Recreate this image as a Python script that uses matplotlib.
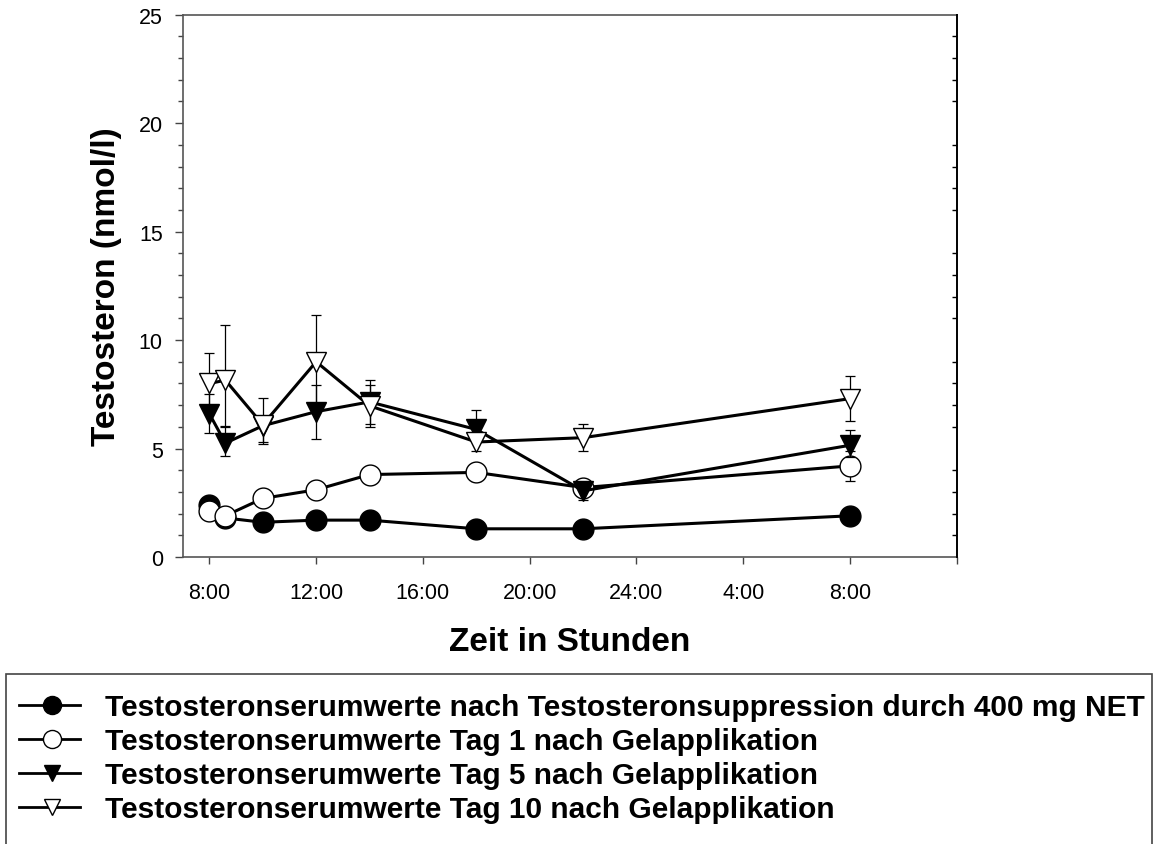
import matplotlib
matplotlib.use("Agg")
import matplotlib.pyplot as plt
from matplotlib.ticker import MultipleLocator, FixedLocator
from matplotlib.lines import Line2D
from matplotlib.patches import Rectangle

plt.rcParams['font.family'] = ['Liberation Sans', 'DejaVu Sans']

# Sampling times (hours; 32 = 8:00 on the following morning)
hours = [8, 8.6, 10, 12, 14, 18, 22, 32]
tick_hours = [8, 12, 16, 20, 24, 28, 32, 36]
tick_labels = ['8:00', '12:00', '16:00', '20:00', '24:00', '4:00', '8:00', '']

# Serum testosterone (nmol/l), means with lower / upper error
supp = [2.4, 1.8, 1.6, 1.7, 1.7, 1.3, 1.3, 1.9]
supp_lo = [0.3, 0.3, 0.3, 0.3, 0.3, 0.3, 0.3, 0.3]
supp_hi = [0.3, 0.3, 0.3, 0.3, 0.3, 0.3, 0.3, 0.3]

day1 = [2.1, 1.9, 2.7, 3.1, 3.8, 3.9, 3.2, 4.2]
day1_lo = [0.3, 0.3, 0.35, 0.35, 0.3, 0.4, 0.3, 0.7]
day1_hi = [0.3, 0.3, 0.35, 0.35, 0.3, 0.4, 0.3, 0.7]

day5 = [6.6, 5.25, 6.05, 6.7, 7.15, 5.88, 3.05, 5.15]
day5_lo = [0.9, 0.6, 0.75, 1.25, 1.0, 0.45, 0.4, 0.55]
day5_hi = [0.9, 0.75, 0.45, 1.25, 1.0, 0.9, 0.4, 0.7]

day10 = [8.0, 8.15, 6.1, 9.0, 6.97, 5.3, 5.5, 7.3]
day10_lo = [1.4, 2.1, 0.9, 2.15, 0.97, 0.4, 0.62, 1.05]
day10_hi = [1.4, 2.55, 1.25, 2.15, 0.97, 0.4, 0.62, 1.05]

labels = [
    'Testosteronserumwerte nach Testosteronsuppression durch 400 mg NET',
    'Testosteronserumwerte Tag 1 nach Gelapplikation',
    'Testosteronserumwerte Tag 5 nach Gelapplikation',
    'Testosteronserumwerte Tag 10 nach Gelapplikation',
]

W, H = 1154, 845
fig = plt.figure(figsize=(W / 100, H / 100), dpi=100)


def fx(x):
    return x / W


def fy(y):
    return 1 - y / H


left, right, top, bottom = 182.7, 956.7, 15.7, 558.0
ax = fig.add_axes([fx(left), fy(bottom), fx(right - left), (bottom - top) / H])

series = [
    (supp, supp_lo, supp_hi, 'o', 'black', 15),
    (day1, day1_lo, day1_hi, 'o', 'white', 15),
    (day5, day5_lo, day5_hi, 'v', 'black', 14),
    (day10, day10_lo, day10_hi, 'v', 'white', 14),
]

for i, (vals, lo, hi, mk, fc, ms) in enumerate(series):
    z = 3 + 3 * i
    ax.errorbar(hours, vals, yerr=[lo, hi], fmt='none', ecolor='black',
                elinewidth=0.9, capsize=3.6, capthick=0.9, zorder=z)
    ax.plot(hours, vals, color='black', lw=2.2, marker=mk, ms=ms,
            mfc=fc, mec='black', mew=1.0, zorder=z + 1)

ax.set_xlim(7, 36)
ax.set_ylim(0, 25)

ax.xaxis.set_major_locator(FixedLocator(tick_hours))
ax.set_xticklabels(tick_labels)
ax.yaxis.set_major_locator(MultipleLocator(5))
ax.yaxis.set_minor_locator(MultipleLocator(1))

ax.tick_params(axis='x', which='major', direction='out', length=5, width=1.0,
               color='#444444', labelsize=15.5, pad=13, top=False)
ax.tick_params(axis='y', which='major', direction='out', length=5.8, width=1.0,
               color='#444444', labelsize=15.5, pad=8.5, right=False)
ax.tick_params(axis='y', which='minor', direction='out', length=3.6, width=1.0,
               color='#444444', right=False)

for side in ('left', 'bottom', 'top'):
    ax.spines[side].set_color('#555555')
    ax.spines[side].set_linewidth(1.2)
ax.spines['right'].set_visible(False)

# right-hand axis: unlabelled inward minor ticks
ax2 = ax.twinx()
ax2.set_ylim(0, 25)
ax2.yaxis.set_major_locator(MultipleLocator(5))
ax2.yaxis.set_minor_locator(MultipleLocator(1))
ax2.tick_params(axis='y', which='major', length=0, labelright=False)
ax2.tick_params(axis='y', which='minor', direction='in', length=3.6, width=1.0,
                color='black')
for side in ('left', 'bottom', 'top'):
    ax2.spines[side].set_visible(False)
ax2.spines['right'].set_color('black')
ax2.spines['right'].set_linewidth(1.4)

ax.set_xlabel('Zeit in Stunden', fontsize=24, fontweight='bold', va='baseline')
ax.xaxis.set_label_coords(0.5, (bottom - 650.7) / (bottom - top))
ax.set_ylabel('Testosteron (nmol/l)', fontsize=24, fontweight='bold', va='baseline')
ax.yaxis.set_label_coords((115 - left) / (right - left), 0.5)

# legend box
fig.add_artist(Rectangle((fx(5.5), fy(900)), fx(1151.5 - 5.5), (900 - 675) / H,
                         transform=fig.transFigure, fill=False,
                         edgecolor='#444444', linewidth=1.2))
rows = [706, 740, 774, 808]
for (vals, lo, hi, mk, fc, ms), lab, yc in zip(series, labels, rows):
    fig.add_artist(Line2D([fx(19), fx(80)], [fy(yc), fy(yc)],
                          transform=fig.transFigure, color='black', lw=2.0))
    fig.add_artist(Line2D([fx(52)], [fy(yc)], transform=fig.transFigure,
                          marker=mk, ms=ms - 2, mfc=fc, mec='black', mew=1.0,
                          linestyle='none'))
    fig.text(fx(105), fy(yc + 10.5), lab, fontsize=21.5, fontweight='bold',
             ha='left', va='baseline')

fig.savefig('out.png', dpi=100)
